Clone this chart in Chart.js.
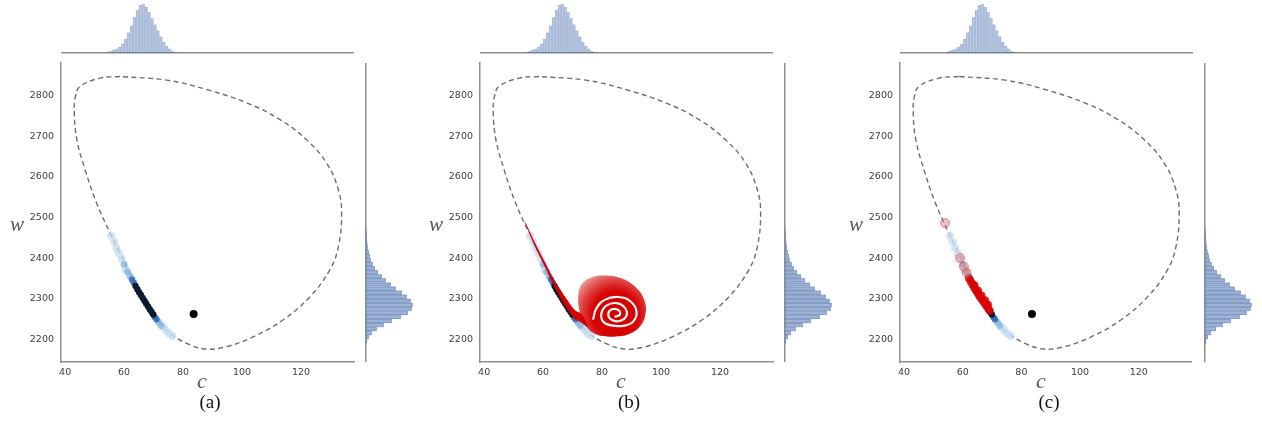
<!DOCTYPE html>
<html>
<head>
<meta charset="utf-8">
<script src="https://cdn.jsdelivr.net/npm/chart.js@4.4.1/dist/chart.umd.min.js"></script>
<style>
    body { margin: 0; background: #fff; width: 1262px; height: 429px; position: relative; overflow: hidden; }
    canvas { position: absolute; display: block; }
    .axis-name { position: absolute; font-family: 'Liberation Serif', 'DejaVu Serif', serif; font-style: italic; color: #5a5a5a; line-height: 1; white-space: nowrap; }
    .caption { position: absolute; font-family: 'Liberation Serif', 'DejaVu Serif', serif; color: #111; line-height: 1; white-space: nowrap; transform: translateX(-50%); }
</style>
</head>
<body>
<script>
// axes
const cRange = [38.6, 138];
const wRange = [2144, 2881];
const cTicks = [40, 60, 80, 100, 120];
const wTicks = [2200, 2300, 2400, 2500, 2600, 2700, 2800];
const panelLetters = ['a', 'b', 'c'];
const panelOffsets = [0, 419, 839];

// dashed limit cycle
const cycleC = [58.6, 51.9, 45.1, 43.5, 43.1, 44.0, 46.8, 50.7, 55.3, 59.8, 64.3, 69.9, 75.6, 81.2, 87.5, 94.8, 103.8, 114.0, 123.1, 129.8, 132.7, 133.8, 132.7, 128.7, 121.9, 112.9, 101.6, 88.0, 74.5, 58.6];
const cycleW = [2847, 2843, 2823, 2798, 2757, 2691, 2617, 2535, 2461, 2395, 2330, 2264, 2215, 2190, 2176, 2182, 2206, 2248, 2305, 2371, 2428, 2511, 2568, 2634, 2691, 2741, 2782, 2815, 2838, 2847];

// hexbin cells, by density
const hexPaleC = [55.6, 56.6, 57.4, 58.3, 59.2, 60.6, 73.4, 74.2, 75.2, 76.4];
const hexPaleW = [2455, 2440, 2425, 2412, 2398, 2372, 2229, 2222, 2214, 2208];
const hexLightC = [60.0, 61.2, 62.0, 71.8, 72.6];
const hexLightW = [2385, 2366, 2356, 2242, 2234];
const hexMidC = [62.7, 63.3, 70.5, 71.0];
const hexMidW = [2347, 2339, 2254, 2249];
const hexDarkC = [63.9, 64.5, 65.1, 65.7, 66.3, 66.9, 67.5, 68.1, 68.7, 69.3, 69.9];
const hexDarkW = [2331, 2323, 2316, 2309, 2302, 2295, 2288, 2281, 2274, 2268, 2261];

// equilibrium point
const dotC = [83.6];
const dotW = [2262];

// (b) spiral: tail outline, blob outline, white gap
const tailC = [53.9, 57.0, 60.5, 64.0, 67.4, 70.8, 73.0, 75.0, 72.5, 70.8, 67.4, 64.0, 60.5, 57.0, 53.9];
const tailW = [2488, 2440, 2390, 2341, 2304, 2271, 2262, 2232, 2244, 2250, 2284, 2328, 2381, 2433, 2488];
const blobC = [83.2, 78.1, 74.7, 72.6, 71.9, 73.0, 76.4, 80.9, 86.6, 91.7, 94.5, 94.7, 92.8, 88.8, 83.2];
const blobW = [2206, 2212, 2231, 2264, 2301, 2334, 2352, 2357, 2350, 2326, 2293, 2260, 2231, 2212, 2206];
const gapC = [77.0, 78.1, 80.9, 85.4, 89.7, 91.7, 90.5, 87.1, 83.2, 80.4, 79.8, 81.5, 84.9, 87.7, 88.3, 86.0, 83.2, 82.1, 83.4, 85.7, 86.0, 84.5];
const gapW = [2250, 2276, 2297, 2304, 2293, 2268, 2243, 2233, 2234, 2243, 2264, 2283, 2289, 2278, 2258, 2245, 2248, 2262, 2274, 2271, 2260, 2256];
const spiralEyeC = 84.5;
const spiralEyeW = 2262;

// (c) red samples
const redBandC = [62.1, 62.7, 63.3, 63.9, 64.5, 65.1, 65.7, 66.3, 66.9, 67.5, 68.1, 68.7, 69.2, 64.0, 65.2, 66.4, 67.6, 68.6];
const redBandW = [2350, 2342, 2335, 2327, 2320, 2313, 2306, 2300, 2294, 2288, 2282, 2276, 2270, 2333, 2320, 2308, 2296, 2285];
const redSparseC = [54.0, 59.1, 60.4, 61.3];
const redSparseW = [2486, 2400, 2379, 2364];

// marginal histograms
const cBins = [54.5, 55.5, 56.5, 57.5, 58.5, 59.5, 60.5, 61.5, 62.5, 63.5, 64.5, 65.5, 66.5, 67.5, 68.5, 69.5, 70.5, 71.5, 72.5, 73.5, 74.5, 75.5, 76.5, 77.5, 78.5];
const cCounts = [1, 2, 3, 4, 6, 9, 14, 20, 27, 35, 42, 47, 48, 45, 40, 34, 28, 22, 16, 11, 7, 4, 2, 1, 0.5];
const wBins = [2195, 2205, 2215, 2225, 2235, 2245, 2255, 2265, 2275, 2285, 2295, 2305, 2315, 2325, 2335, 2345, 2355, 2365, 2375, 2385, 2395, 2405, 2415, 2425, 2435, 2445, 2455, 2465, 2475];
const wCounts = [1, 3, 6, 11, 18, 26, 35, 42, 46, 47, 45, 41, 36, 30, 25, 20, 16, 12, 9, 7, 5, 4, 3, 2, 1.5, 1, 0.7, 0.4, 0.2];

const spineColor = '#8f8f8f';
const tickFont = { family: "'DejaVu Sans', sans-serif", size: 9.5 };

function xy(xs, ys) {
    return xs.map((x, i) => ({ x, y: ys[i] }));
}

function addCanvas(left, top, width, height) {
    const canvas = document.createElement('canvas');
    canvas.width = width;
    canvas.height = height;
    canvas.style.left = left + 'px';
    canvas.style.top = top + 'px';
    canvas.style.width = width + 'px';
    canvas.style.height = height + 'px';
    document.body.appendChild(canvas);
    return canvas;
}

function addText(cls, text, left, top, size) {
    const el = document.createElement('div');
    el.className = cls;
    el.textContent = text;
    el.style.left = left + 'px';
    el.style.top = top + 'px';
    el.style.fontSize = size + 'px';
    document.body.appendChild(el);
}

const baseOptions = {
    responsive: false,
    animation: false,
    events: [],
    plugins: { legend: { display: false }, tooltip: { enabled: false } }
};

function hexSets() {
    return [
        { data: xy(hexPaleC, hexPaleW), backgroundColor: 'rgba(198, 219, 239, 0.75)', pointRadius: 4, borderWidth: 0, order: 9 },
        { data: xy(hexLightC, hexLightW), backgroundColor: 'rgba(140, 185, 225, 0.85)', pointRadius: 3.5, borderWidth: 0, order: 8 },
        { data: xy(hexMidC, hexMidW), backgroundColor: 'rgba(50, 110, 185, 0.9)', pointRadius: 3.2, borderWidth: 0, order: 7 },
        { data: xy(hexDarkC, hexDarkW), backgroundColor: '#0c1a2e', pointRadius: 3.2, borderWidth: 0, order: 6 }
    ];
}

function blobGradient(ctx) {
    const chart = ctx.chart;
    if (!chart.chartArea) {
        return '#d40000';
    }
    const cx = chart.scales.x.getPixelForValue(spiralEyeC);
    const cy = chart.scales.y.getPixelForValue(spiralEyeW);
    const g = chart.ctx.createRadialGradient(cx, cy, 0, cx, cy, 46);
    g.addColorStop(0, '#d20000');
    g.addColorStop(0.5, '#d60404');
    g.addColorStop(0.75, '#e04646');
    g.addColorStop(1, '#ef9e9e');
    return g;
}

function panelDatasets(letter) {
    const sets = [
        {
            data: xy(cycleC, cycleW), showLine: true, borderColor: '#6e6e6e', borderWidth: 1.4,
            borderDash: [5, 3.5], pointRadius: 0, tension: 0.4, fill: false, order: 10
        },
        ...hexSets()
    ];
    if (letter !== 'b') {
        sets.push({ data: xy(dotC, dotW), backgroundColor: '#000', pointRadius: 4, borderWidth: 0, order: 5 });
    }
    if (letter === 'b') {
        sets.push(
            { data: xy(blobC, blobW), showLine: true, borderWidth: 0, pointRadius: 0, tension: 0.4, fill: 'shape', backgroundColor: blobGradient, order: 4 },
            { data: xy(tailC, tailW), showLine: true, borderWidth: 0.5, borderColor: '#d40000', pointRadius: 0, tension: 0.3, fill: 'shape', backgroundColor: '#d40000', order: 3 },
            { data: xy(gapC, gapW), showLine: true, borderColor: 'rgba(255, 255, 255, 0.95)', borderWidth: 2.2, borderCapStyle: 'round', pointRadius: 0, tension: 0.45, fill: false, order: 2 }
        );
    }
    if (letter === 'c') {
        sets.push(
            { data: xy(redBandC, redBandW), backgroundColor: 'rgba(218, 0, 0, 0.85)', pointRadius: 4, borderWidth: 0, order: 3 },
            { data: xy(redSparseC, redSparseW), backgroundColor: 'rgba(232, 110, 110, 0.45)', borderColor: 'rgba(215, 70, 70, 0.55)', pointRadius: 4.5, borderWidth: 1, order: 2 }
        );
    }
    return sets;
}

function renderMain(ox, letter) {
    // y labels add ~12.7px above the plot area, so the canvas starts higher
    const canvas = addCanvas(ox + 20, 50, 338, 338);
    new Chart(canvas, {
        type: 'scatter',
        data: { datasets: panelDatasets(letter) },
        options: {
            ...baseOptions,
            layout: { padding: { top: 0, right: 1 } },
            scales: {
                x: {
                    type: 'linear', min: cRange[0], max: cRange[1],
                    grid: { display: false, drawTicks: false },
                    border: { display: true, color: spineColor, width: 1.5 },
                    ticks: { color: '#3d3d3d', font: tickFont, padding: 5, maxRotation: 0, autoSkip: false, callback: v => String(v) },
                    afterBuildTicks: s => { s.ticks = cTicks.map(v => ({ value: v })); },
                    afterFit: s => { s.height = 26; }
                },
                y: {
                    type: 'linear', min: wRange[0], max: wRange[1],
                    grid: { display: false, drawTicks: false },
                    border: { display: true, color: spineColor, width: 1.5 },
                    ticks: { color: '#3d3d3d', font: tickFont, padding: 7, autoSkip: false, callback: v => String(v) },
                    afterBuildTicks: s => { s.ticks = wTicks.map(v => ({ value: v })); },
                    afterFit: s => { s.width = 41; }
                }
            }
        }
    });
}

function renderTopHist(ox) {
    const canvas = addCanvas(ox + 61, 0, 293, 54);
    new Chart(canvas, {
        type: 'bar',
        data: {
            datasets: [{
                data: xy(cBins, cCounts),
                backgroundColor: 'rgba(76, 114, 176, 0.38)',
                borderColor: 'rgba(76, 114, 176, 0.25)',
                borderWidth: 0.5,
                barPercentage: 1,
                categoryPercentage: 1
            }]
        },
        options: {
            ...baseOptions,
            scales: {
                x: {
                    type: 'linear', min: cRange[0], max: cRange[1], offset: false,
                    grid: { display: false, drawTicks: false },
                    ticks: { display: false },
                    border: { display: true, color: spineColor, width: 1.5 },
                    afterFit: s => { s.height = 1; }
                },
                y: { type: 'linear', min: 0, max: 52, display: false }
            }
        }
    });
}

function renderRightHist(ox) {
    const canvas = addCanvas(ox + 365, 63, 55, 299);
    new Chart(canvas, {
        type: 'bar',
        data: {
            datasets: [{
                data: xy(wCounts, wBins),
                backgroundColor: 'rgba(76, 114, 176, 0.55)',
                borderColor: 'rgba(60, 95, 160, 0.4)',
                borderWidth: 0.6,
                barPercentage: 1,
                categoryPercentage: 1
            }]
        },
        options: {
            ...baseOptions,
            indexAxis: 'y',
            scales: {
                y: {
                    type: 'linear', min: wRange[0], max: wRange[1], offset: false,
                    grid: { display: false, drawTicks: false },
                    ticks: { display: false },
                    border: { display: true, color: spineColor, width: 1.5 },
                    afterFit: s => { s.width = 1; }
                },
                x: { type: 'linear', min: 0, max: 54.3, display: false }
            }
        }
    });
}

panelLetters.forEach((letter, i) => {
    const ox = panelOffsets[i];
    renderTopHist(ox);
    renderMain(ox, letter);
    renderRightHist(ox);
    addText('axis-name', 'w', ox + 10, 214, 21);
    addText('axis-name', 'c', ox + 197, 370, 22);
    addText('caption', '(' + letter + ')', ox + 210, 392, 19);
});
</script>
</body>
</html>
